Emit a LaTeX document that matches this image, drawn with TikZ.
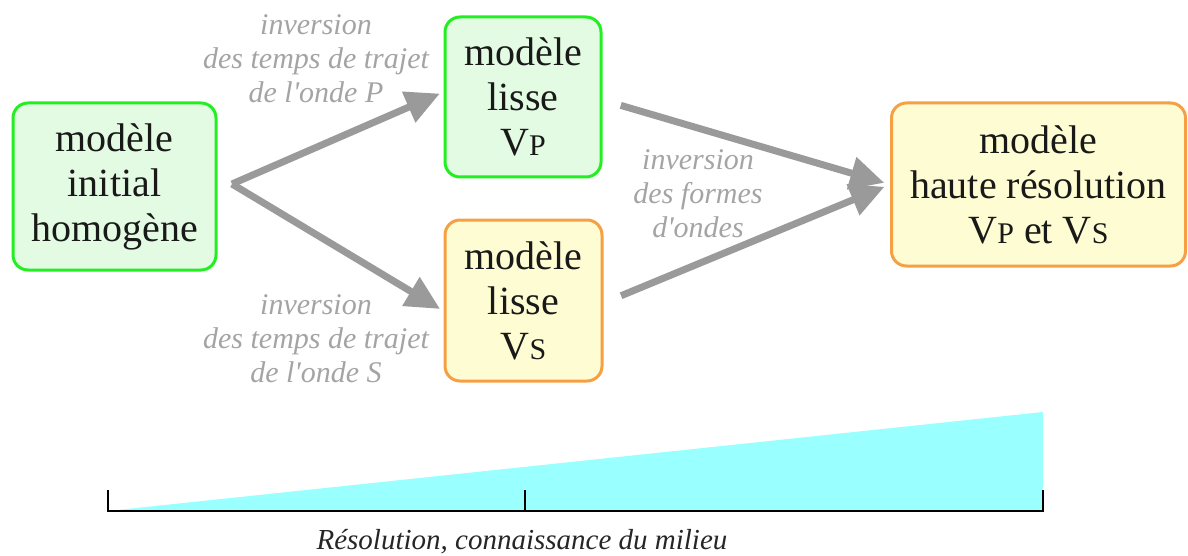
\documentclass[tikz,border=0pt]{standalone}
\usepackage{fontspec}
\setmainfont{Liberation Serif}
\usetikzlibrary{arrows.meta}
\definecolor{gborder}{HTML}{22EE22}
\definecolor{gfill}{HTML}{E2FBE2}
\definecolor{oborder}{HTML}{F7A043}
\definecolor{ofill}{HTML}{FDFCD2}
\definecolor{arrowgray}{HTML}{9A9A9A}
\definecolor{labelgray}{HTML}{A4A4A4}
\definecolor{rescyan}{HTML}{99FFFF}
\newcommand{\smallcap}[1]{{\fontsize{30}{45}\selectfont #1}}
\tikzset{
  boxbase/.style={rounded corners=15pt, line width=3pt, align=center, inner sep=0pt,
    font=\fontsize{40}{45}\selectfont, text=black!90},
  greenbox/.style={boxbase, draw=gborder, fill=gfill},
  orangebox/.style={boxbase, draw=oborder, fill=ofill},
  flow/.style={draw=arrowgray, line width=7pt, -{Triangle[length=34pt,width=32pt]}},
  lbl/.style={align=center, text=labelgray, font=\itshape\fontsize{30}{34}\selectfont},
}
\begin{document}
\begin{tikzpicture}[x=1pt,y=-1pt]
\useasboundingbox (0,0) rectangle (1188,556);
% boxes
\node[greenbox, minimum width=203pt, minimum height=167pt] (b1) at (114.5,186.5)
  {modèle\\initial\\homogène};
\node[greenbox, minimum width=156pt, minimum height=160pt] (b2) at (523,97)
  {modèle\\lisse\\V\smallcap{P}};
\node[orangebox, minimum width=157pt, minimum height=161pt] (b3) at (523.5,300.5)
  {modèle\\lisse\\V\smallcap{S}};
\node[orangebox, minimum width=294pt, minimum height=163pt] (b4) at (1038.5,184.5)
  {modèle\\haute résolution\\V\smallcap{P} et V\smallcap{S}};
% start point
\coordinate (s1) at (232,184);
% arrows
\draw[flow, shorten >=4pt] (s1) -- (b2.west |- 0,92);
\draw[flow, shorten >=4pt] (s1) -- (b3.west |- 0,311);
\draw[flow, shorten <=19pt, shorten >=6pt] (b2.east |- 0,100) -- (b4.west);
\draw[flow, shorten <=19pt, shorten >=6pt] (b3.east |- 0,303) -- (b4.west);
% labels
\node[lbl] (l1) at (316,59) {inversion\\des temps de trajet\\de l\textquotesingle onde P};
\node[lbl] (l2) at (316,339) {inversion\\des temps de trajet\\de l\textquotesingle onde S};
\node[lbl] (l3) at (698,194) {inversion\\des formes\\d\textquotesingle ondes};
% resolution wedge
\fill[rescyan] (108,511) -- (1043,511) -- (1043,412) -- cycle;
\coordinate (a0) at (108,511);
\coordinate (a1) at (525,511);
\coordinate (a2) at (1043,511);
\draw[line width=2pt, line cap=rect] (a0) -- (a2);
\draw[line width=2pt] (a0) -- ++(0,-21);
\draw[line width=2pt] (a1) -- ++(0,-21);
\draw[line width=2pt] (a2) -- ++(0,-21);
\node[font=\itshape\fontsize{29}{34}\selectfont, text=black!85] (res) at (522,542)
  {Résolution, connaissance du milieu};
\end{tikzpicture}
\end{document}
